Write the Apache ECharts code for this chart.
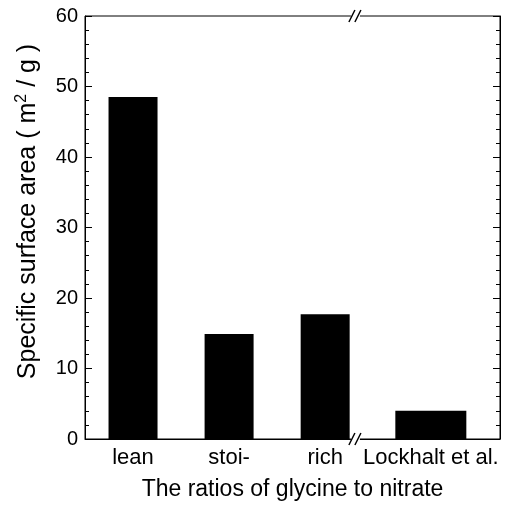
<!DOCTYPE html>
<html>
<head>
<meta charset="utf-8">
<script src="https://cdn.jsdelivr.net/npm/echarts@6/dist/echarts.min.js"></script>
<style>
  html, body { margin: 0; padding: 0; background: #fff; }
  #chart { width: 507px; height: 506px; }
</style>
</head>
<body>
<div id="chart"></div>
<script>
  // ratios of glycine to nitrate, with the literature value after the break
  var categories = ['lean', 'stoi-', 'rich', 'Lockhalt et al.'];
  var catPositions = [0.5, 1.5, 2.5, 3.6];
  var surfaceArea = [48.5, 14.9, 17.7, 4.0];
  var yTicks = [0, 10, 20, 30, 40, 50, 60];
  var breakAt = 2.82;

  var font = 'Liberation Sans, Arial, sans-serif';
  var chart = echarts.init(document.getElementById('chart'));

  function pairs(from, to) {
    var out = [];
    for (var i = from; i < to; i++) {
      out.push([catPositions[i], surfaceArea[i]]);
    }
    return out;
  }

  function labelFor(v) {
    for (var i = 0; i < catPositions.length; i++) {
      if (Math.abs(catPositions[i] - v) < 1e-6) return categories[i];
    }
    return '';
  }

  function yAxis(side) {
    var left = side === 'left';
    return {
      type: 'value',
      position: side,
      min: yTicks[0],
      max: yTicks[yTicks.length - 1],
      interval: 10,
      splitLine: { show: false },
      // x is a value axis too, so keep the y axes off its zero
      axisLine: { show: true, onZero: false, lineStyle: { color: '#000', width: 1 } },
      axisTick: { show: true, inside: true, length: 7, lineStyle: { color: '#000' } },
      minorTick: { show: true, splitNumber: 5, length: 4, lineStyle: { color: '#000' } },
      axisLabel: {
        show: left,
        color: '#000',
        fontFamily: font,
        fontSize: 20,
        margin: 7
      },
      name: left ? '{t|Specific surface area ( m}{s|2}{t| / g )}' : '',
      nameLocation: 'middle',
      nameGap: 43,
      nameTextStyle: {
        padding: [0, 0, 0, 32],
        rich: {
          t: { color: '#000', fontFamily: font, fontSize: 25 },
          s: { color: '#000', fontFamily: font, fontSize: 16, verticalAlign: 'top', padding: [0, 0, 12, 0] }
        }
      }
    };
  }

  var option = {
    animation: false,
    backgroundColor: '#fff',
    grid: {
      left: 85, right: 7, top: 16, bottom: 67,
      show: true, borderColor: '#000', borderWidth: 1
    },
    xAxis: [{
      type: 'value',
      min: 0,
      max: 4.32,
      splitLine: { show: false },
      axisLine: { show: true, onZero: false, lineStyle: { color: '#000' } },
      axisTick: { show: false },
      axisLabel: {
        customValues: catPositions,
        formatter: labelFor,
        color: '#000',
        fontFamily: font,
        fontSize: 22,
        margin: 8
      },
      name: 'The ratios of glycine to nitrate',
      nameLocation: 'middle',
      nameGap: 39,
      nameTextStyle: { color: '#000', fontFamily: font, fontSize: 23 }
    }, {
      type: 'value',
      min: 0,
      max: 4.32,
      show: false
    }],
    yAxis: [yAxis('left'), yAxis('right')],
    series: [{
      type: 'bar',
      xAxisIndex: 0,
      yAxisIndex: 0,
      barWidth: 49,
      itemStyle: { color: '#000' },
      data: pairs(0, 3)
    }, {
      type: 'bar',
      xAxisIndex: 1,
      yAxisIndex: 0,
      barWidth: 71,
      itemStyle: { color: '#000' },
      data: pairs(3, 4)
    }]
  };

  chart.setOption(option);

  // axis break marks "//" on the top and bottom frame
  function breakMark(yVal) {
    var p = chart.convertToPixel({ xAxisIndex: 0, yAxisIndex: 0 }, [breakAt, yVal]);
    var x = p[0], y = p[1];
    var line = { stroke: '#000', lineWidth: 1.5 };
    return [
      { type: 'rect', shape: { x: x - 5, y: y - 2, width: 9, height: 4 }, style: { fill: '#fff' }, z: 100 },
      { type: 'line', shape: { x1: x - 7, y1: y + 6, x2: x - 1, y2: y - 6 }, style: line, z: 101 },
      { type: 'line', shape: { x1: x - 1, y1: y + 6, x2: x + 5, y2: y - 6 }, style: line, z: 101 }
    ];
  }

  chart.setOption({
    graphic: breakMark(yTicks[0]).concat(breakMark(yTicks[yTicks.length - 1]))
  });
</script>
</body>
</html>
